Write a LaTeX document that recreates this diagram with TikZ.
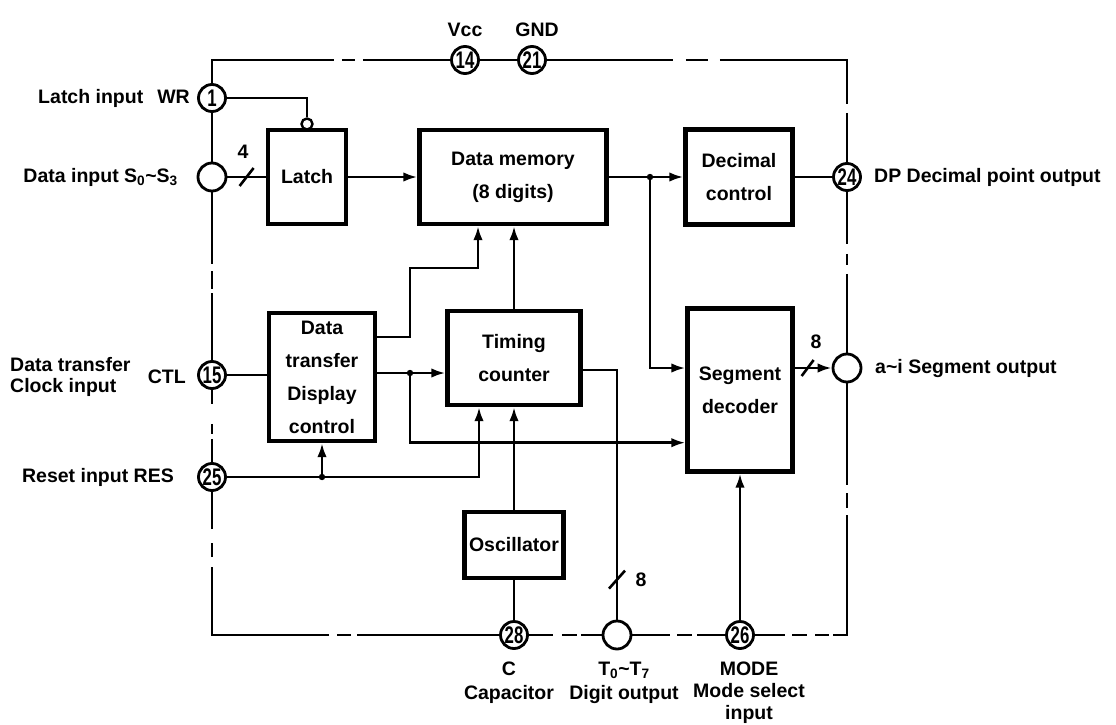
\documentclass[tikz,border=0pt]{standalone}
\usepackage{fontspec}
\setmainfont{Liberation Sans}
\usetikzlibrary{arrows.meta,positioning,calc}
\newcommand{\pinno}[1]{\scalebox{0.7}[1]{#1}}

\begin{document}
\begin{tikzpicture}[x=1pt,y=-1pt,
    >={Latex[length=14pt,width=9.5pt]},
    font=\fontsize{19.5}{24}\selectfont\bfseries,
    wire/.style={line width=2.6pt},
    chip/.style={line width=2.4pt},
    blk/.style={draw,line width=4.4pt,align=center,inner sep=0pt,font=\fontsize{19.5}{33}\selectfont\bfseries},
    pinnum/.style={draw,circle,line width=2.8pt,minimum size=27pt,inner sep=0pt,font=\fontsize{24}{24}\selectfont\bfseries},
    pinopen/.style={draw,circle,line width=2.8pt,minimum size=28pt,inner sep=0pt},
    bubble/.style={draw,circle,line width=2.4pt,minimum size=11pt,inner sep=0pt,fill=white},
    lbl/.style={inner sep=0pt}]
\useasboundingbox (0,0) rectangle (1116,725);

% blocks
\node[blk,minimum width=78pt,minimum height=94pt] (latch) at (307,177) {Latch};
\node[blk,minimum width=187pt,minimum height=94pt] (mem) at (513,177) {Data memory\\(8 digits)};
\node[blk,minimum width=107pt,minimum height=95pt] (dec) at (739,177) {Decimal\\control};
\node[blk,minimum width=106pt,minimum height=128pt] (dt) at (322,377) {Data\\transfer\\Display\\control};
\node[blk,minimum width=133pt,minimum height=94pt] (tim) at (514,358) {Timing\\counter};
\node[blk,minimum width=105pt,minimum height=163pt] (seg) at (740,390) {Segment\\decoder};
\node[blk,minimum width=99pt,minimum height=66pt] (osc) at (514,545) {Oscillator};
\node[bubble] (bub) at (307,124) {};

% pins
\node[pinnum] (p14) at (465,60) {\pinno{14}};
\node[pinnum] (p21) at (532,60) {\pinno{21}};
\node[pinnum] (p1) at (212,98) {\pinno{1}};
\node[pinopen] (pS) at (212,177) {};
\node[pinnum] (p15) at (212,375) {\pinno{15}};
\node[pinnum] (p25) at (212,477) {\pinno{25}};
\node[pinnum] (p24) at (847,177) {\pinno{24}};
\node[pinopen] (pSeg) at (847,368) {};
\node[pinnum] (p28) at (514,635) {\pinno{28}};
\node[pinopen] (pT) at (617,635) {};
\node[pinnum] (p26) at (740,635) {\pinno{26}};

% chip outline
\coordinate (tl) at (212,60);
\coordinate (tr) at (847,60);
\coordinate (br) at (847,635);
\coordinate (bl) at (212,635);
\draw[chip,dash pattern=on 145pt off 8pt on 13pt off 8pt on 400pt] (p1.north) -- (tl) -- (p14.west);
\draw[chip] (p14.east) -- (p21.west);
\draw[chip,dash pattern=on 126pt off 13pt on 22pt off 12pt on 171pt off 9pt on 400pt] (p21.east) -- (tr) -- (p24.north);
\draw[chip,dash pattern=on 52pt off 10pt on 11pt off 9pt on 400pt] (p24.south) -- (pSeg.north);
\draw[chip,dash pattern=on 102pt off 8pt on 15pt off 7pt on 134pt off 4pt on 14pt off 8pt on 15pt off 7pt on 400pt] (pSeg.south) -- (br) -- (p26.east);
\draw[chip,dash pattern=on 38pt off 7pt on 15pt off 5pt on 400pt] (pT.east) -- (p26.west);
\draw[chip,dash pattern=on 24pt off 9pt on 15pt off 4pt on 400pt] (p28.east) -- (pT.west);
\draw[chip,dash pattern=on 142pt off 6pt on 14pt off 8pt on 185pt off 10pt on 14pt off 14pt on 400pt] (p28.west) -- (bl) -- (p25.south);
\draw[chip,dash pattern=on 14pt off 20pt on 10pt off 5pt on 400pt] (p15.south) -- (p25.north);
\draw[chip,dash pattern=on 72pt off 7pt on 18pt off 4pt on 400pt] (pS.south) -- (p15.north);
\draw[chip] (p1.south) -- (pS.north);

% signal lines
\draw[wire] (p1.east) -| (bub.north);
\draw[wire] (pS.east) -- (latch.west);
\draw[wire] ($(pS.east)!0.5!(latch.west)$) +(-7,9) -- +(7,-9);
\draw[wire,->] (latch.east) -- (mem.west);
\coordinate (j1) at (650,177);
\draw[wire] (mem.east) -- (j1);
\draw[wire,->] (j1) -- (dec.west);
\draw[wire] (dec.east) -- (p24.west);
\draw[wire,->] (j1) |- (pSeg -| seg.west);
\coordinate (so) at (pSeg -| seg.east);
\draw[wire,->] (so) -- (pSeg.west);
\draw[wire] ($(so)!0.35!(pSeg.west)$) +(-6,8) -- +(6,-8);
\draw[wire,->] ([yshift=-26pt]dt.north east) -| (410,268) -| ([xshift=-35pt]mem.south);
\coordinate (j2) at (410,373);
\draw[wire] (dt.east |- j2) -- (j2);
\draw[wire,->] (j2) -- (j2 -| tim.west);
\draw[wire,->] (j2) |- ([yshift=31pt]seg.south west);
\draw[wire,->] (tim.north) -- (tim.north |- mem.south);
\draw[wire] ([yshift=-12pt]tim.east) -| (pT.north);
\draw[wire] ([yshift=40pt]pT.north) +(-8,9) -- +(8,-9);
\draw[wire] (p15.east) -- (p15 -| dt.west);
\coordinate (j4) at (dt.south |- p25);
\draw[wire] (p25.east) -- (j4);
\draw[wire,->] (j4) -- (dt.south);
\draw[wire,->] (j4) -| ([xshift=-35pt]tim.south);
\draw[wire,->] (osc.north) -- (tim.south);
\draw[wire] (osc.south) -- (p28.north);
\draw[wire,->] (p26.north) -- (p26 |- seg.south);
\fill (j1) circle (3.2pt);
\fill (j2) circle (3.2pt);
\fill (j4) circle (3.2pt);

% labels
\node[lbl] (lvcc) at (465,30) {Vcc};
\node[lbl] (lgnd) at (537,30) {GND};
\node[lbl] (lfour) at (243,152) {4};
\node[lbl] (leightseg) at (816,342) {8};
\node[lbl] (leightdig) at (641,580) {8};
\node[lbl,anchor=east] (lwr) at (190,98) {Latch input\hspace{14pt}WR};
\node[lbl,anchor=east] (lds) at (178,177) {Data input S\textsubscript{0}\textasciitilde S\textsubscript{3}};
\node[lbl,anchor=east] (lctl) at (186,377) {CTL};
\node[lbl,anchor=west,align=left,font=\fontsize{19.5}{21}\selectfont\bfseries] (lclk) at (10,377) {Data transfer\\Clock input};
\node[lbl,anchor=east] (lres) at (174,477) {Reset input RES};
\node[lbl,anchor=west] (ldp) at (874,177) {DP Decimal point output};
\node[lbl,anchor=west] (lseg) at (875,368) {a\textasciitilde i Segment output};
\node[lbl,anchor=north,align=center,font=\fontsize{19.5}{24}\selectfont\bfseries] (lc) at (509,662) {C\\Capacitor};
\node[lbl,anchor=north,align=center,font=\fontsize{19.5}{24}\selectfont\bfseries] (lt) at (624,662) {T\textsubscript{0}\textasciitilde T\textsubscript{7}\\Digit output};
\node[lbl,anchor=north,align=center,font=\fontsize{19.5}{22}\selectfont\bfseries] (lm) at (749,662) {MODE\\Mode select\\input};
\end{tikzpicture}
\end{document}
